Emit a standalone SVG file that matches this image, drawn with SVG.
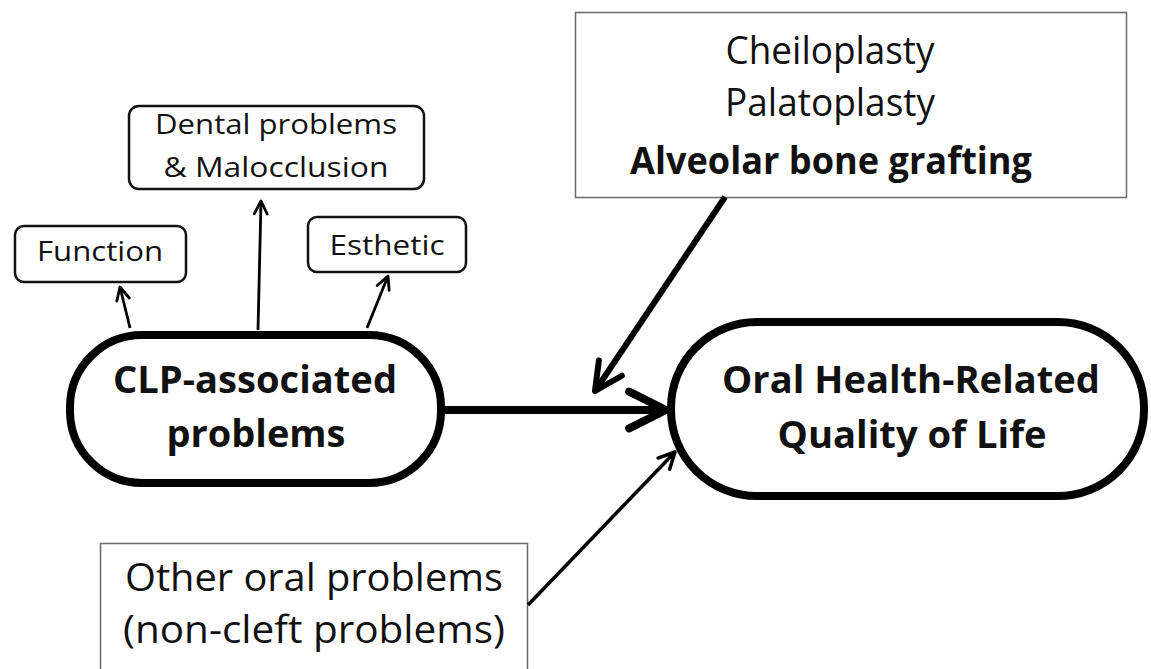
<svg xmlns="http://www.w3.org/2000/svg" width="1151" height="669" viewBox="0 0 1151 669">
<style>
text{font-family:"Open Sans","Noto Sans","Liberation Sans",sans-serif;fill:#111;text-anchor:middle}
.b{font-weight:bold}
.small{font-size:28px}
.big{font-size:38px}
.box{font-size:38px}
.rbox{fill:#fff;stroke:#111;stroke-width:2.5}
.pill{fill:#fff;stroke:#000;stroke-width:8}
.sq{fill:#fff;stroke:#6a6a6a;stroke-width:1.5}
.conn{stroke:#000;fill:none;stroke-linecap:butt;marker-end:url(#chev)}
</style>
<defs>
<marker id="chev" markerUnits="strokeWidth" markerWidth="9" markerHeight="9" viewBox="-7 -4.5 9 9" refX="0" refY="0" orient="auto" overflow="visible">
<path d="M-4.6,-2.3 L0,0 L-4.6,2.3" fill="none" stroke="#000" stroke-width="1" stroke-linecap="round" stroke-linejoin="round"/>
</marker>
</defs>
<rect width="1151" height="669" fill="#fff"/>
<g id="dental">
<rect class="rbox" x="129" y="106" width="295" height="83" rx="10"/>
<text class="small" x="276" y="134" textLength="242" lengthAdjust="spacingAndGlyphs">Dental problems</text>
<text class="small" x="276" y="177" textLength="225" lengthAdjust="spacingAndGlyphs">&amp; Malocclusion</text>
</g>
<g id="function">
<rect class="rbox" x="15" y="226" width="171" height="56" rx="9"/>
<text class="small" x="100" y="261" textLength="126" lengthAdjust="spacingAndGlyphs">Function</text>
</g>
<g id="esthetic">
<rect class="rbox" x="308" y="217" width="158" height="55" rx="9"/>
<text class="small" x="387" y="255" textLength="115" lengthAdjust="spacingAndGlyphs">Esthetic</text>
</g>
<g id="clp">
<rect class="pill" x="70" y="335" width="371" height="148" rx="72"/>
<text class="big b" x="255" y="393" textLength="284" lengthAdjust="spacingAndGlyphs">CLP-associated</text>
<text class="big b" x="256" y="447" textLength="179" lengthAdjust="spacingAndGlyphs">problems</text>
</g>
<g id="ohrqol">
<rect class="pill" x="671" y="322" width="473" height="174" rx="86"/>
<text class="big b" x="911" y="393" textLength="378" lengthAdjust="spacingAndGlyphs">Oral Health-Related</text>
<text class="big b" x="912" y="448" textLength="269" lengthAdjust="spacingAndGlyphs">Quality of Life</text>
</g>
<g id="surgery">
<rect class="sq" x="575.5" y="12.5" width="551" height="185"/>
<text class="box" x="830" y="64" textLength="209" lengthAdjust="spacingAndGlyphs">Cheiloplasty</text>
<text class="box" x="830" y="116" textLength="210" lengthAdjust="spacingAndGlyphs">Palatoplasty</text>
<text class="box b" x="831" y="174" textLength="402" lengthAdjust="spacingAndGlyphs">Alveolar bone grafting</text>
</g>
<g id="other">
<rect class="sq" x="100.5" y="543.5" width="427" height="140"/>
<text class="box" x="314" y="591" textLength="378" lengthAdjust="spacingAndGlyphs">Other oral problems</text>
<text class="box" x="314" y="643" textLength="382" lengthAdjust="spacingAndGlyphs">(non-cleft problems)</text>
</g>
<g id="connectors">
<line class="conn" x1="130" y1="328" x2="120" y2="287" stroke-width="2.8"/>
<line class="conn" x1="258" y1="330" x2="261" y2="201" stroke-width="2.8"/>
<line class="conn" x1="367" y1="328" x2="388" y2="276" stroke-width="2.8"/>
<line class="conn" x1="445" y1="410" x2="666" y2="410" stroke-width="8"/>
<line class="conn" x1="725" y1="197" x2="595" y2="391" stroke-width="6"/>
<line class="conn" x1="528" y1="605" x2="675" y2="452" stroke-width="3.5"/>
</g>
</svg>
